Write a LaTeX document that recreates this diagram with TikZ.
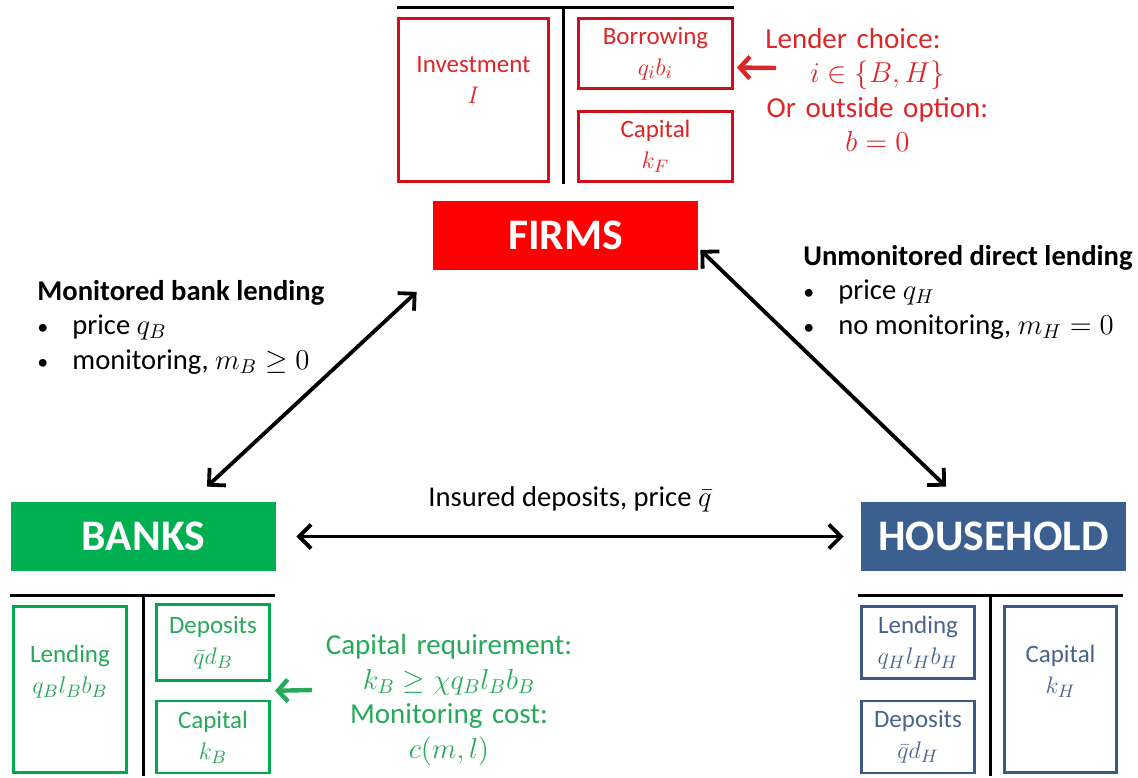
\documentclass[tikz,border=0pt]{standalone}
\usepackage{fontspec}
\setmainfont{Carlito}
\usetikzlibrary{arrows.meta,calc}

\definecolor{firmfill}{RGB}{255,0,0}
\definecolor{firmline}{RGB}{206,16,26}
\definecolor{firmtext}{RGB}{222,38,40}
\definecolor{bankfill}{RGB}{0,176,80}
\definecolor{bankline}{RGB}{0,168,80}
\definecolor{banktext}{RGB}{38,170,90}
\definecolor{housefill}{RGB}{59,96,144}
\definecolor{houseline}{RGB}{58,90,132}
\definecolor{housetext}{RGB}{72,100,142}

\newcommand{\smallbullet}{\makebox[17.5pt][l]{\fontsize{11}{11}\selectfont\textbullet}}

\begin{document}
\begin{tikzpicture}
    [x=0.5pt, y=-0.5pt,
    sector/.style={minimum width=132.5pt, minimum height=34.5pt, inner sep=0pt, text=white, font=\fontsize{21.8}{25}\selectfont\bfseries},
    account/.style={draw, line width=1.4pt, inner sep=0pt, align=center, font=\fontsize{12.5}{15.5}\selectfont},
    sheet/.style={line width=1.5pt, black},
    link/.style={line width=1.9pt, black, {Straight Barb[length=6pt,width=12pt]}-{Straight Barb[length=6pt,width=12pt]}},
    pointer/.style={line width=2.2pt, -{Straight Barb[length=5pt,width=11pt]}},
    note/.style={align=center, inner sep=0pt, font=\fontsize{14.5}{17.25}\selectfont},
    bullets/.style={align=left, inner sep=0pt, font=\fontsize{14.3}{17.25}\selectfont}]

    \fill[white] (0,0) rectangle (1138,775);

    % Sectors
    \node[sector, fill=firmfill] (firms) at (565.5,235) {FIRMS};
    \node[sector, fill=bankfill] (banks) at (143.5,536.5) {BANKS};
    \node[sector, fill=housefill] (household) at (993.5,536.5) {HOUSEHOLD};

    % Balance sheet of the firms
    \draw[sheet] (397,7) -- (734,7);
    \draw[sheet] (563,7) -- (563,184);
    \node[account, draw=firmline, text=firmtext, minimum width=75pt, minimum height=81.5pt] (inv) at (473.5,100) {Investment\\ $I$\\ \strut};
    \node[account, draw=firmline, text=firmtext, minimum width=77pt, minimum height=35pt] (borrow) at (655.5,53.5) {Borrowing\\ $q_i b_i$};
    \node[account, draw=firmline, text=firmtext, minimum width=77pt, minimum height=35pt] (fcap) at (655.5,146.5) {Capital\\ $k_F$};

    \node[note, text=firmtext, text width=112pt, anchor=west] (lender) at (765,90) {\makebox[\linewidth][l]{Lender choice:}\\ \mbox{$i \in \{B,H\}$}\\ Or outside option:\\ \mbox{$b = 0$}};
    \coordinate (redtail) at (776,68);
    \draw[pointer, firmtext] (redtail) -- ([xshift=1.5pt,yshift=-7pt]borrow.east);

    % Balance sheet of the banks
    \draw[sheet] (10,595) -- (275,595);
    \draw[sheet] (143,595) -- (143,776);
    \node[account, draw=bankline, text=banktext, minimum width=56.5pt, minimum height=83pt] (blend) at (70,689.5) {Lending\\ $q_B l_B b_B$\\ \strut};
    \node[account, draw=bankline, text=banktext, minimum width=56.5pt, minimum height=38pt] (bdep) at (213,642.5) {Deposits\\ $\bar{q} d_B$};
    \node[account, draw=bankline, text=banktext, minimum width=56.5pt, minimum height=36pt] (bcap) at (213,737) {Capital\\ $k_B$};

    \node[note, text=banktext, text width=126pt] (requirement) at (449,700) {Capital requirement:\\ \mbox{$k_B \geq \chi q_B l_B b_B$}\\ Monitoring cost:\\ \mbox{$c(m,l)$}};
    \coordinate (greentail) at (312,690);
    \draw[pointer, banktext] (greentail) -- ([xshift=2pt]$(bdep.south east)!0.5!(bcap.north east)$);

    % Balance sheet of the household
    \draw[sheet] (858,595) -- (1123,595);
    \draw[sheet] (990,595) -- (990,776);
    \node[account, draw=houseline, text=housetext, minimum width=56.5pt, minimum height=36pt] (hlend) at (918,642.5) {Lending\\ $q_H l_H b_H$};
    \node[account, draw=houseline, text=housetext, minimum width=56.5pt, minimum height=36pt] (hdep) at (918,737) {Deposits\\ $\bar{q} d_H$};
    \node[account, draw=houseline, text=housetext, minimum width=56pt, minimum height=83pt] (hcap) at (1060.5,689.5) {Capital\\ $k_H$\\ \strut};

    % Lending relations
    \node[bullets, anchor=west] (bank lending) at (37,327) {\textbf{Monitored bank lending}\\ \smallbullet price $q_B$\\ \smallbullet monitoring, $m_B \geq 0$};
    \node[bullets, anchor=west] (direct lending) at (803,292) {\textbf{Unmonitored direct lending}\\ \smallbullet price $q_H$\\ \smallbullet no monitoring, $m_H = 0$};

    \draw[link] ([xshift=31.75pt,yshift=7.5pt]banks.north) -- ([xshift=-8pt,yshift=-11pt]firms.south west);
    \draw[link] ([xshift=1pt,yshift=10pt]firms.south east) -- ([xshift=-23.75pt,yshift=7.5pt]household.north);
    \draw[link] ([xshift=10pt]banks.east) -- ([xshift=-8.5pt]household.west)
        node[midway, above=8pt, font=\fontsize{14.3}{17}\selectfont] {Insured deposits, price $\bar{q}$};

\end{tikzpicture}
\end{document}
